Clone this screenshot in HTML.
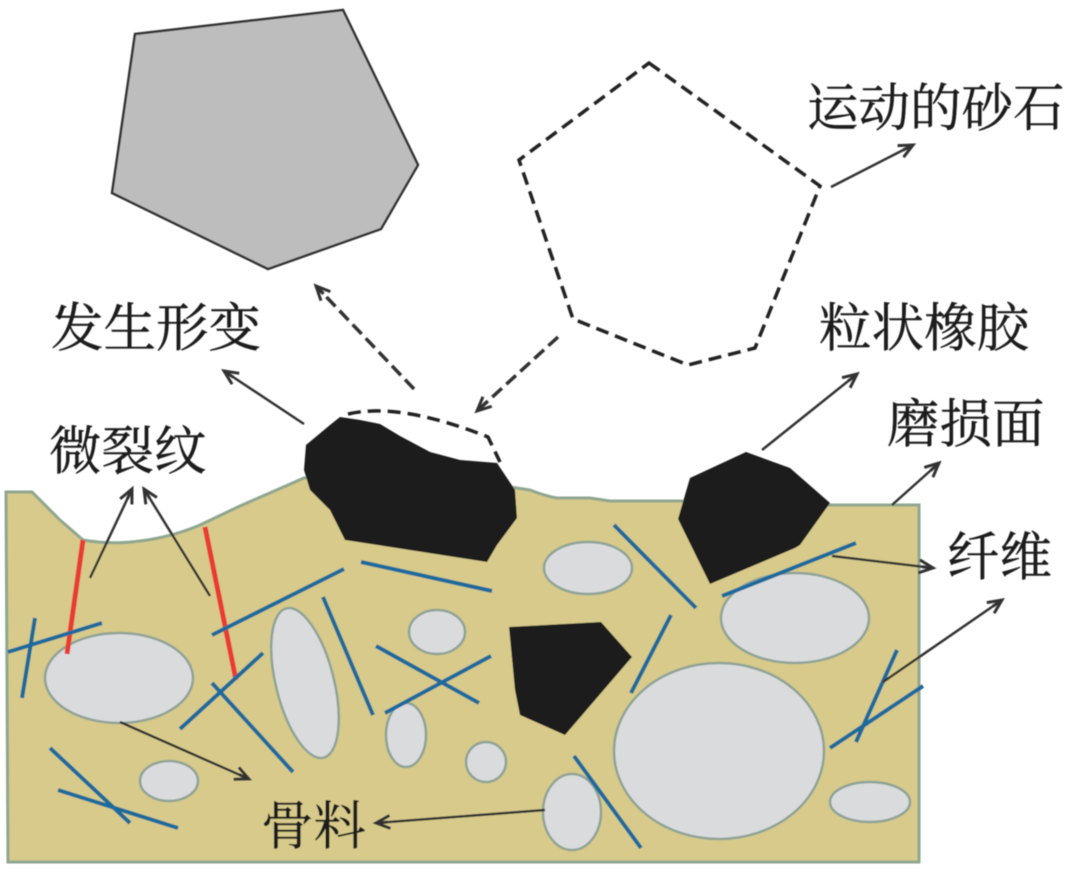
<!DOCTYPE html>
<html><head><meta charset="utf-8"><style>
html,body{margin:0;padding:0;background:#fff;width:1080px;height:872px;overflow:hidden}
svg{display:block}
text{font-family:"Liberation Serif","Noto Serif CJK SC",serif;font-size:52.5px;fill:#1a1a1a;stroke:#1a1a1a;stroke-width:.4px}
</style></head><body>
<svg xmlns="http://www.w3.org/2000/svg" width="1080" height="872" viewBox="0 0 1080 872">
<defs>
<marker id="a" markerUnits="userSpaceOnUse" markerWidth="24" markerHeight="20" refX="20" refY="10" orient="auto"><path d="M6 3.5L20 10L6 16.5" fill="none" stroke="#333" stroke-width="3"/><path d="M9 10H20" stroke="#333" stroke-width="3"/></marker>
<filter id="b" filterUnits="userSpaceOnUse" x="0" y="0" width="1080" height="872"><feGaussianBlur stdDeviation="0.6"/></filter>
</defs>
<g filter="url(#b)">
<path d="M6 492H32L60 520L83 540Q112 545 140 541Q172 537 200 525L240 506L304 478L420 460L510 487L530 490Q545 496 557 498L590 498L610 501H680L830 505H919V862H8Z" fill="#d7ca8b" stroke="#8fa68f" stroke-width="3"/>
<g fill="#dadbdd" stroke="#8fa396" stroke-width="2.5">
<ellipse cx="119" cy="678" rx="74" ry="45"/>
<ellipse cx="305" cy="683" rx="29" ry="77" transform="rotate(-14 305 683)"/>
<ellipse cx="437" cy="632" rx="28" ry="22"/>
<ellipse cx="406" cy="735" rx="20" ry="32"/>
<ellipse cx="486" cy="762" rx="20" ry="20"/>
<ellipse cx="169" cy="781" rx="29" ry="20"/>
<ellipse cx="588" cy="568" rx="44" ry="26"/>
<ellipse cx="795" cy="618" rx="74" ry="45"/>
<ellipse cx="719" cy="751" rx="105" ry="88"/>
<ellipse cx="572" cy="812" rx="29" ry="38"/>
<ellipse cx="870" cy="802" rx="40" ry="20"/>
</g>
<g stroke="#ea3a33" stroke-width="5" fill="none">
<path d="M83 540L67 654"/><path d="M205 527L236 680"/>
</g>
<g stroke="#1d6b9c" stroke-width="4" fill="none">
<path d="M8 652L102 623"/><path d="M35 618L22 698"/>
<path d="M212 635L344 569"/><path d="M361 562L492 591"/>
<path d="M323 597L373 715"/>
<path d="M180 729L263 653"/><path d="M212 683L293 772"/>
<path d="M376 646L479 703"/><path d="M385 713L491 656"/>
<path d="M50 748L130 823"/><path d="M58 790L178 828"/>
<path d="M614 525L696 608"/><path d="M722 596L856 543"/>
<path d="M671 615L631 693"/>
<path d="M574 756L641 848"/>
<path d="M897 650L856 742"/><path d="M830 748L923 686"/>
</g>
<g fill="#1a1a1a">
<path d="M340 417L360 420L380 424L400 436L430 452L460 460L497 463L515 490L517 518L497 545L487 562L345 540L330 510L310 490L304 470L306 445L330 425Z"/>
<path d="M746 452L790 468L830 503L800 545L795 548L710 584L678 519L690 478Z"/>
<path d="M509 627L601 622L632 657L565 735L520 715L515 690Z"/>
</g>
<path d="M135 34L343 10L418 165L381 229L268 269L112 193Z" fill="#bdbdbd" stroke="#333" stroke-width="2.5"/>
<g fill="none" stroke="#222" stroke-width="3.5" stroke-dasharray="13 7">
<path d="M649 63L820 186L755 348L688 365L573 319L519 160Z"/>
<path d="M348 414Q400 402 488 437L500 462"/>
</g>
<g fill="none" stroke="#333" stroke-width="2.5" marker-end="url(#a)">
<path d="M831 187L913 145"/>
<path d="M304 424L224 371"/>
<path d="M90 578L132 489"/>
<path d="M210 596L144 489"/>
<path d="M762 450L857 374"/>
<path d="M892 505L939 463"/>
<path d="M832 556L933 568"/>
<path d="M883 682L1002 600"/>
<path d="M120 722L249 779"/>
<path d="M545 810L376 823"/>
<path d="M414 389L316 286" stroke-width="3.5" stroke-dasharray="13 6"/>
<path d="M558 337L477 411" stroke-width="3.5" stroke-dasharray="13 6"/>
</g>
<text x="807" y="126" style="font-size:51.5px">运动的砂石</text>
<text x="51" y="346">发生形变</text>
<text x="819" y="346">粒状橡胶</text>
<text x="887" y="442">磨损面</text>
<text x="49" y="469">微裂纹</text>
<text x="947" y="575">纤维</text>
<text x="261" y="844">骨料</text>
</g>
</svg>
</body></html>
